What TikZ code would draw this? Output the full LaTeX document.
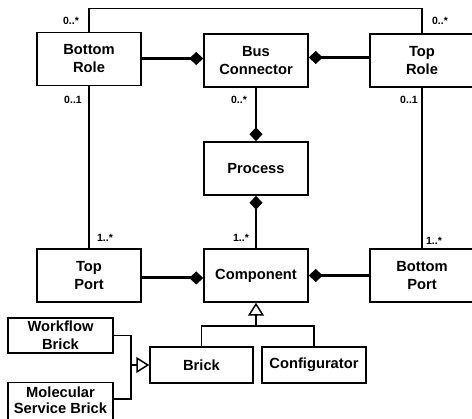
\documentclass[tikz,border=0pt]{standalone}
\usepackage{fontspec}
\setmainfont{Liberation Sans}
\usetikzlibrary{arrows.meta,calc}
\begin{document}
\begin{tikzpicture}[x=1pt,y=-1pt,
  cls/.style={draw, line width=1.5pt, fill=white, font=\bfseries\fontsize{14.7}{18}\selectfont, align=center, inner sep=0pt},
  big/.style={cls, minimum width=104pt, minimum height=53pt},
  small/.style={cls, minimum width=104pt, minimum height=36pt},
  txt/.style={font=\bfseries\fontsize{14.7}{16}\selectfont, align=center, inner sep=0pt},
  mult/.style={font=\bfseries\fontsize{10.5}{12}\selectfont, inner sep=0pt},
  assoc/.style={line width=1.5pt},
  comp/.style={line width=2.6pt, -{Diamond[length=14pt,width=13pt]}},
  gen/.style={line width=1.5pt, -{Triangle[open, fill=white, length=13pt, width=16pt]}},
]
\useasboundingbox (0,0) rectangle (472,419);
\clip (0,0) rectangle (472,419);

\node[big] (br) at (89,59) {Bottom\\Role};
\node[big] (bc) at (256,60.5) {Bus\\Connector};
\node[big] (tr) at (422,60.5) {Top\\Role};
\node[big] (pr) at (256,168.5) {Process};
\node[big] (co) at (256,275.5) {Component};
\node[big] (tp) at (89,275.5) {Top\\Port};
\node[big] (bp) at (422,275.5) {Bottom\\Port};
\node[small, minimum width=103pt] (brick) at (201.5,365) {Brick};
\node[small] (conf) at (314,365) {Configurator};
\node[cls, minimum width=105pt, minimum height=35pt] (wb) at (60.5,335.5) {Workflow\\Brick};
\node[cls, minimum width=105pt, minimum height=40pt, anchor=north] (msb) at (60.5,382) {};
\node[txt, anchor=north] (msbtext) at ($(msb.north)+(0,4.5)$) {Molecular\\Service Brick};

% associations
\draw[assoc] (br.north) -- ++(0,-23) -| (tr.north);
\draw[assoc] (br.south) -- (tp.north);
\draw[assoc] (tr.south) -- (bp.north);

% compositions
\draw[comp] ([yshift=0.5pt]br.east) -- ([yshift=0.5pt]br.east -| bc.west);
\draw[comp] ([yshift=3pt]tr.west) -- ([yshift=3pt]tr.west -| bc.east);
\draw[comp] (bc.south) -- (pr.north);
\draw[comp] (co.north) -- (pr.south);
\draw[comp, line width=3pt] ([yshift=-2.5pt]tp.east) -- ([yshift=-2.5pt]tp.east -| co.west);
\draw[comp, line width=2.2pt] (bp.west) -- (co.east);

% generalizations
\coordinate (gj) at (256,326);
\draw[assoc] (brick.north) |- (gj) -| (conf.north);
\draw[gen] (gj) -- (co.south);
\coordinate (bj) at (131,365);
\coordinate (msbE) at (113,399);
\draw[assoc] (wb.east) -| (bj);
\draw[assoc] (msbE) -| (bj);
\draw[gen] (bj) -- (brick.west);

% multiplicities
\node[mult] (m1) at (71,21) {0..*};
\node[mult] (m2) at (440,21) {0..*};
\node[mult] (m3) at (73,100) {0..1};
\node[mult] (m4) at (409,100) {0..1};
\node[mult] (m5) at (239,100) {0..*};
\node[mult] (m6) at (241,238) {1..*};
\node[mult] (m7) at (105,238) {1..*};
\node[mult] (m8) at (434,241) {1..*};
\end{tikzpicture}
\end{document}
